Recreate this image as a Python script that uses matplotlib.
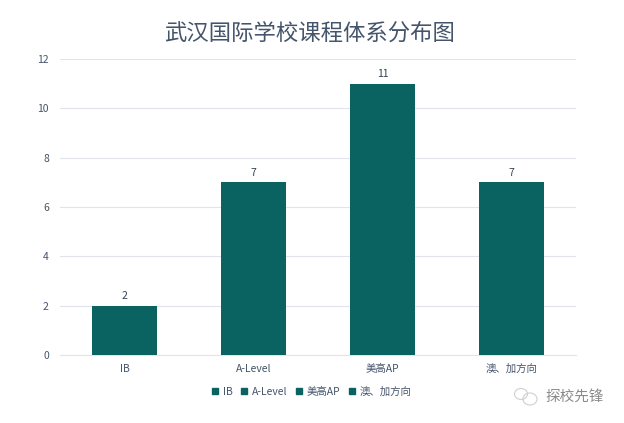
import matplotlib
matplotlib.use("Agg")
import matplotlib.pyplot as plt
from matplotlib.patches import Patch, Ellipse
from matplotlib.transforms import IdentityTransform

plt.rcParams['font.family'] = ['Noto Sans CJK SC', 'DejaVu Sans']

categories = ['IB', 'A-Level', '美高AP', '澳、加方向']
values = [2, 7, 11, 7]
yticks = [0, 2, 4, 6, 8, 10, 12]
title = '武汉国际学校课程体系分布图'
watermark = '探校先锋'
bar_color = '#0A6360'
text_color = '#44546A'
grid_color = '#E1E4EA'

fig = plt.figure(figsize=(6.24, 4.23), dpi=100, facecolor='white')
ax = fig.add_axes([60/624, 1-355/423, (576-60)/624, (355-59)/423])
x = range(len(categories))
ax.bar(x, values, width=0.5, color=bar_color, zorder=3)
ax.set_xlim(-0.5, 3.5)
ax.set_ylim(0, 12)
ax.set_yticks(yticks)
ax.set_xticks(list(x))
ax.set_xticklabels(categories)
ax.tick_params(length=0, labelsize=7.5, labelcolor=text_color)
ax.tick_params(axis='x', pad=6.5)
ax.tick_params(axis='y', pad=8)
ax.grid(axis='y', color=grid_color, lw=0.8, zorder=0)
for s in ['top', 'left', 'right']:
    ax.spines[s].set_visible(False)
ax.spines['bottom'].set_color(grid_color)
for i, v in zip(x, values):
    ax.annotate(str(v), (i, v), xytext=(0, 3.2), textcoords='offset points',
                ha='center', va='bottom', fontsize=7.5, color='#333F50')
fig.text(310/624, 1-33/423, title, ha='center', va='center', fontsize=16.1, color=text_color)
handles = [Patch(color=bar_color, label=c) for c in categories]
fig.legend(handles=handles, loc='center', bbox_to_anchor=(311.5/624, 1-391.5/423), ncol=4,
           frameon=False, fontsize=7.5, labelcolor=text_color, handlelength=0.6, handleheight=0.6,
           handletextpad=0.45, columnspacing=0.8)
fig.text(575/624, 1-397/423, watermark, ha='center', va='center', fontsize=10.5, color='#8A8A8A')
for cx, cy, w, h in [(521, 394, 13, 11), (530, 399, 14, 12)]:
    fig.add_artist(Ellipse((cx, 423-cy), w, h, transform=IdentityTransform(),
                           fill=False, ec='#CFCFCF', lw=0.8))
fig.savefig('out.png', dpi=100)
